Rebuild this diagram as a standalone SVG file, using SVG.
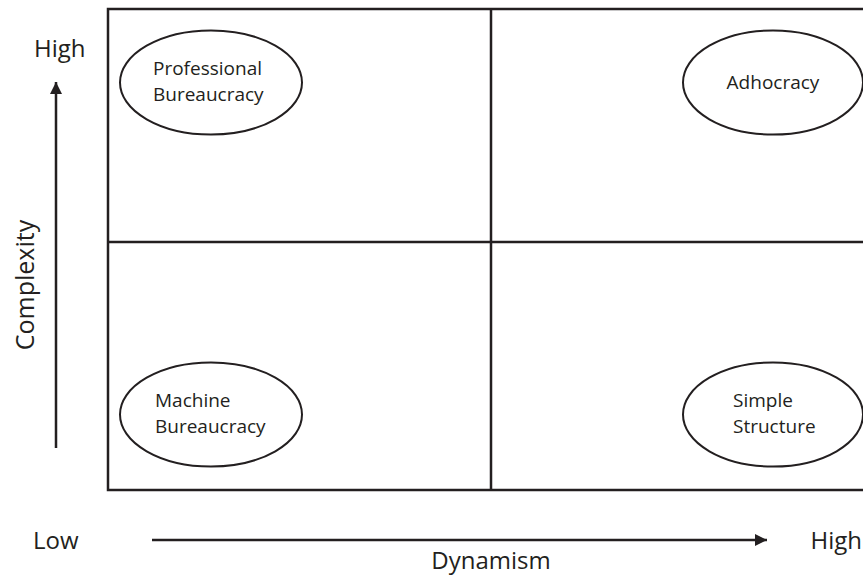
<svg xmlns="http://www.w3.org/2000/svg" width="863" height="576" viewBox="0 0 863 576">
  <defs>
    <style>
      .frame { fill: none; stroke: #231f20; stroke-width: 2.5; }
      .node ellipse { fill: #ffffff; stroke: #231f20; stroke-width: 2; }
      .node text { font-family: "Open Sans", "Noto Sans", sans-serif; font-size: 19px; fill: #231f20; }
      .axis-label { font-family: "Open Sans", "Noto Sans", sans-serif; font-size: 24px; fill: #231f20; }
      .axis { stroke: #231f20; stroke-width: 2.5; fill: none; }
    </style>
    <marker id="arrow" viewBox="0 0 10 10" refX="10" refY="5" markerUnits="userSpaceOnUse" markerWidth="13" markerHeight="12" orient="auto">
      <path d="M0,0 L10,5 L0,10 z" fill="#231f20"/>
    </marker>
  </defs>

  <rect width="863" height="576" fill="#ffffff"/>

  <!-- quadrant grid -->
  <g id="grid">
    <rect class="frame" x="108" y="9" width="765" height="481"/>
    <line class="frame" x1="491" y1="9" x2="491" y2="490"/>
    <line class="frame" x1="108" y1="242" x2="873" y2="242"/>
  </g>

  <!-- quadrant nodes -->
  <g id="professional-bureaucracy" class="node">
    <ellipse cx="211" cy="82.5" rx="91" ry="52"/>
    <text x="153" y="75">Professional</text>
    <text x="153" y="101">Bureaucracy</text>
  </g>
  <g id="adhocracy" class="node">
    <ellipse cx="773" cy="82.5" rx="90" ry="52"/>
    <text x="773" y="89" text-anchor="middle">Adhocracy</text>
  </g>
  <g id="machine-bureaucracy" class="node">
    <ellipse cx="211" cy="414.5" rx="91" ry="52"/>
    <text x="155" y="407">Machine</text>
    <text x="155" y="433">Bureaucracy</text>
  </g>
  <g id="simple-structure" class="node">
    <ellipse cx="773" cy="414.5" rx="90" ry="52"/>
    <text x="733" y="407">Simple</text>
    <text x="733" y="433">Structure</text>
  </g>

  <!-- axes -->
  <g id="connectors">
    <line class="axis" x1="56" y1="448" x2="56" y2="82" marker-end="url(#arrow)"/>
    <line class="axis" x1="152" y1="540" x2="767" y2="540" marker-end="url(#arrow)"/>
  </g>

  <!-- axis labels -->
  <g id="labels">
    <text class="axis-label" x="34" y="57">High</text>
    <text class="axis-label" x="33" y="549">Low</text>
    <text class="axis-label" x="862" y="549" text-anchor="end">High</text>
    <text class="axis-label" x="491" y="569" text-anchor="middle">Dynamism</text>
    <text class="axis-label" transform="translate(34,285) rotate(-90)" text-anchor="middle" style="font-size:25px">Complexity</text>
  </g>
</svg>
